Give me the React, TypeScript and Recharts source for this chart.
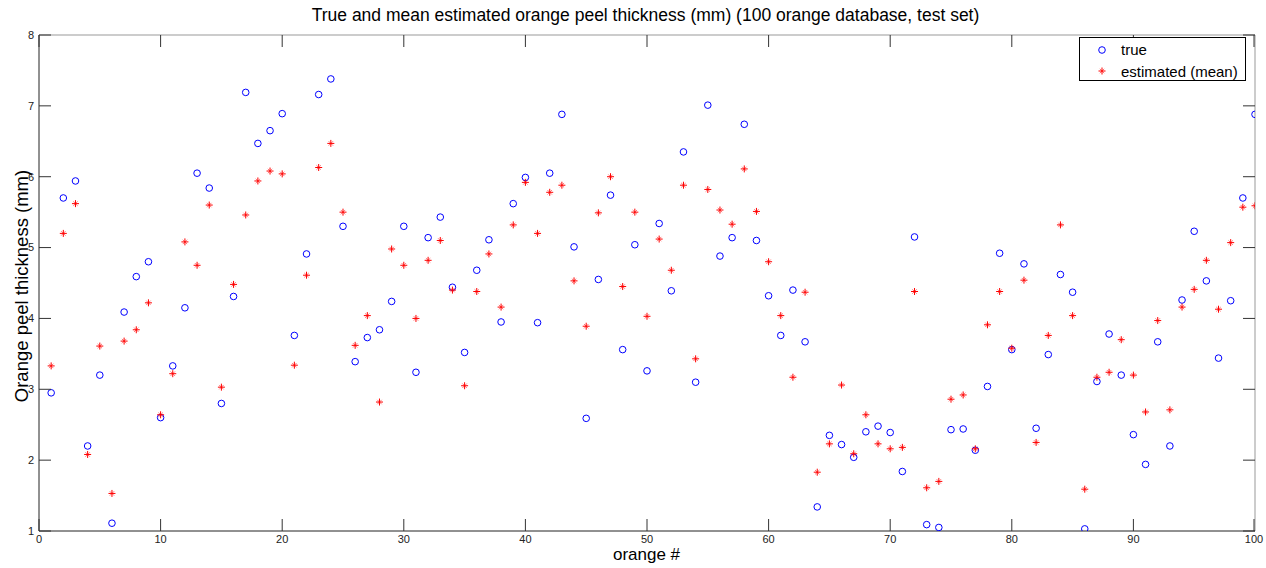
import { ScatterChart, Scatter, XAxis, YAxis, ReferenceLine } from "recharts";

const orangeNumbers = [
  1, 2, 3, 4, 5, 6, 7, 8, 9, 10, 11, 12, 13, 14, 15, 16, 17, 18, 19, 20,
  21, 22, 23, 24, 25, 26, 27, 28, 29, 30, 31, 32, 33, 34, 35, 36, 37, 38, 39, 40,
  41, 42, 43, 44, 45, 46, 47, 48, 49, 50, 51, 52, 53, 54, 55, 56, 57, 58, 59, 60,
  61, 62, 63, 64, 65, 66, 67, 68, 69, 70, 71, 72, 73, 74, 75, 76, 77, 78, 79, 80,
  81, 82, 83, 84, 85, 86, 87, 88, 89, 90, 91, 92, 93, 94, 95, 96, 97, 98, 99, 100,
];

const trueThickness = [
  2.95, 5.7, 5.94, 2.2, 3.2, 1.11, 4.09, 4.59, 4.8, 2.6,
  3.33, 4.15, 6.05, 5.84, 2.8, 4.31, 7.19, 6.47, 6.65, 6.89,
  3.76, 4.91, 7.16, 7.38, 5.3, 3.39, 3.73, 3.84, 4.24, 5.3,
  3.24, 5.14, 5.43, 4.44, 3.52, 4.68, 5.11, 3.95, 5.62, 5.99,
  3.94, 6.05, 6.88, 5.01, 2.59, 4.55, 5.74, 3.56, 5.04, 3.26,
  5.34, 4.39, 6.35, 3.1, 7.01, 4.88, 5.14, 6.74, 5.1, 4.32,
  3.76, 4.4, 3.67, 1.34, 2.35, 2.22, 2.04, 2.4, 2.48, 2.39,
  1.84, 5.15, 1.09, 1.05, 2.43, 2.44, 2.14, 3.04, 4.92, 3.56,
  4.77, 2.45, 3.49, 4.62, 4.37, 1.03, 3.11, 3.78, 3.2, 2.36,
  1.94, 3.67, 2.2, 4.26, 5.23, 4.53, 3.44, 4.25, 5.7, 6.88,
];

const estimatedMean = [
  3.33, 5.2, 5.62, 2.08, 3.61, 1.53, 3.68, 3.84, 4.22, 2.64,
  3.22, 5.08, 4.75, 5.6, 3.03, 4.48, 5.46, 5.94, 6.08, 6.04,
  3.34, 4.61, 6.13, 6.47, 5.5, 3.62, 4.04, 2.82, 4.98, 4.75,
  4.0, 4.82, 5.1, 4.4, 3.05, 4.38, 4.91, 4.16, 5.32, 5.92,
  5.2, 5.78, 5.88, 4.53, 3.89, 5.49, 6.0, 4.45, 5.5, 4.03,
  5.12, 4.68, 5.88, 3.43, 5.82, 5.53, 5.33, 6.11, 5.51, 4.8,
  4.04, 3.17, 4.37, 1.83, 2.23, 3.06, 2.09, 2.64, 2.23, 2.16,
  2.18, 4.38, 1.61, 1.7, 2.86, 2.92, 2.16, 3.91, 4.38, 3.58,
  4.54, 2.25, 3.76, 5.32, 4.04, 1.59, 3.17, 3.24, 3.7, 3.2,
  2.68, 3.97, 2.71, 4.16, 4.41, 4.82, 4.13, 5.07, 5.57, 5.59,
];

const xTicks = [0, 10, 20, 30, 40, 50, 60, 70, 80, 90, 100];
const yTicks = [1, 2, 3, 4, 5, 6, 7, 8];

const W = 1266;
const H = 568;
const TOP = 35;
const RIGHT = 11;
const Y_AXIS_W = 39;
const X_AXIS_H = 37;
const TICK_LEN = 12;
const FONT = "'Liberation Sans', Arial, sans-serif";

const trueData = orangeNumbers.map((n, i) => ({ n, v: trueThickness[i] }));
const estData = orangeNumbers.map((n, i) => ({ n, v: estimatedMean[i] }));

const XTick = (props: any) => {
  const { x, y, payload } = props;
  const axisY = y - 4;
  return (
    <g>
      <line x1={x} y1={axisY} x2={x} y2={axisY - TICK_LEN} stroke="#333" />
      <line x1={x} y1={TOP} x2={x} y2={TOP + TICK_LEN} stroke="#333" />
      <text x={x} y={y} dy="0.71em" textAnchor="middle" fontSize={11} fill="#222" fontFamily={FONT}>
        {payload.value}
      </text>
    </g>
  );
};

const YTick = (props: any) => {
  const { x, y, payload } = props;
  const axisX = x + 5;
  const rightX = W - RIGHT;
  return (
    <g>
      <line x1={axisX} y1={y} x2={axisX + TICK_LEN} y2={y} stroke="#333" />
      <line x1={rightX} y1={y} x2={rightX - TICK_LEN} y2={y} stroke="#333" />
      <text x={x} y={y} dy="0.355em" textAnchor="end" fontSize={11} fill="#222" fontFamily={FONT}>
        {payload.value}
      </text>
    </g>
  );
};

const Circle = (props: any) => (
  <circle cx={props.cx} cy={props.cy} r={3.3} fill="none" stroke="#0000ff" strokeWidth={1} />
);

const Star = (props: any) => {
  const { cx, cy } = props;
  return (
    <g stroke="#ff0000" strokeWidth={1}>
      <line x1={cx - 3.5} y1={cy} x2={cx + 3.5} y2={cy} />
      <line x1={cx} y1={cy - 3.5} x2={cx} y2={cy + 3.5} />
      <g strokeOpacity={0.55}>
        <line x1={cx - 2.2} y1={cy - 2.2} x2={cx + 2.2} y2={cy + 2.2} />
        <line x1={cx - 2.2} y1={cy + 2.2} x2={cx + 2.2} y2={cy - 2.2} />
      </g>
    </g>
  );
};

export default function App() {
  return (
    <div style={{ position: "relative", width: W, height: H, background: "#fff", fontFamily: FONT }}>
      <style>{"body{margin:0}"}</style>
      <ScatterChart width={W} height={H} margin={{ top: TOP, right: RIGHT, left: 0, bottom: 0 }}>
        <XAxis
          type="number"
          dataKey="n"
          domain={[0, 100]}
          ticks={xTicks}
          height={X_AXIS_H}
          tickSize={0}
          tickMargin={4}
          tick={<XTick />}
          axisLine={{ stroke: "#222" }}
          allowDataOverflow
        />
        <YAxis
          type="number"
          dataKey="v"
          domain={[1, 8]}
          ticks={yTicks}
          width={Y_AXIS_W}
          tickSize={0}
          tickMargin={5}
          tick={<YTick />}
          axisLine={{ stroke: "#222" }}
          allowDataOverflow
        />
        <ReferenceLine y={8} stroke="#999" />
        <ReferenceLine x={100} stroke="#999" />
        <Scatter name="true" data={trueData} shape={<Circle />} isAnimationActive={false} />
        <Scatter name="estimated (mean)" data={estData} shape={<Star />} isAnimationActive={false} />
      </ScatterChart>

      <div
        style={{
          position: "absolute",
          left: 0,
          width: 1291,
          top: 5,
          textAlign: "center",
          fontSize: 17.5,
          color: "#000",
          whiteSpace: "nowrap",
        }}
      >
        True and mean estimated orange peel thickness (mm) (100 orange database, test set)
      </div>
      <div
        style={{
          position: "absolute",
          left: 0,
          width: 1293,
          top: 545,
          textAlign: "center",
          fontSize: 17,
          color: "#000",
        }}
      >
        orange #
      </div>
      <div
        style={{
          position: "absolute",
          left: 22,
          top: 286,
          transform: "translate(-50%, -50%) rotate(-90deg)",
          fontSize: 18.5,
          whiteSpace: "nowrap",
          color: "#000",
        }}
      >
        Orange peel thickness (mm)
      </div>

      <div
        style={{
          position: "absolute",
          left: 1079,
          top: 37,
          width: 165,
          height: 42,
          border: "1px solid #000",
          background: "#fff",
          fontSize: 15,
        }}
      >
        <div style={{ position: "absolute", left: 41, top: 3 }}>true</div>
        <div style={{ position: "absolute", left: 41, top: 25, whiteSpace: "nowrap" }}>estimated (mean)</div>
        <svg style={{ position: "absolute", left: 0, top: 0 }} width={40} height={42}>
          <circle cx={22} cy={12} r={3.3} fill="none" stroke="#0000ff" />
          <g stroke="#ff0000" strokeWidth={1}>
            <line x1={18.5} y1={33} x2={25.5} y2={33} />
            <line x1={22} y1={29.5} x2={22} y2={36.5} />
            <g strokeOpacity={0.55}>
              <line x1={19.8} y1={30.8} x2={24.2} y2={35.2} />
              <line x1={19.8} y1={35.2} x2={24.2} y2={30.8} />
            </g>
          </g>
        </svg>
      </div>
    </div>
  );
}
